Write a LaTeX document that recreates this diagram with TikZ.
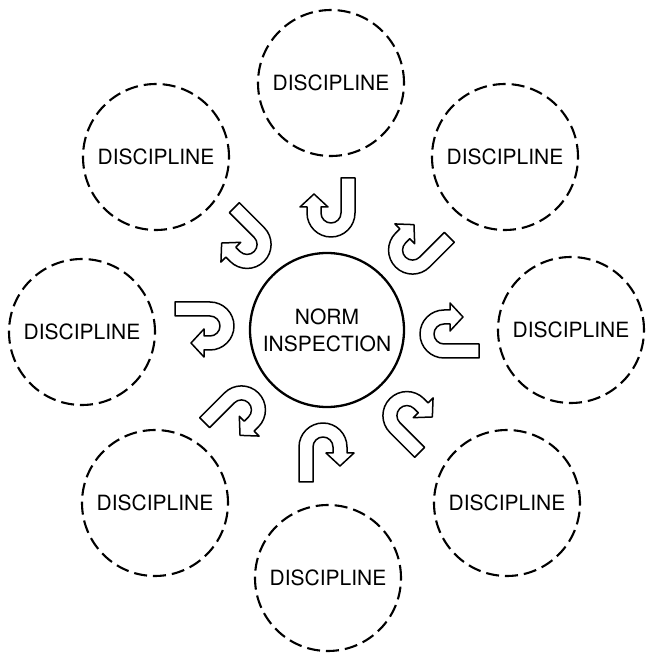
\documentclass[tikz,border=0pt]{standalone}
\usepackage{fontspec}
\setmainfont{TeX Gyre Heros}
\begin{document}
\begin{tikzpicture}[x=1pt,y=1pt,
  disc/.style={circle, draw, dash pattern=on 13pt off 6pt, line width=2.1pt, minimum size=146pt, inner sep=0pt, font=\fontsize{21}{25}\selectfont},
  hub/.style={circle, draw, line width=2.3pt, minimum size=154pt, inner sep=0pt, align=center, font=\fontsize{21}{27}\selectfont},
  uturn/.style={draw, fill=white, line width=1.5pt, line join=round}]
\useasboundingbox (0,0) rectangle (650,654);
\node[hub] (hub) at (327,324) {NORM\\INSPECTION};
\node[disc] (d1) at (331,571) {DISCIPLINE};
\node[disc] (d2) at (505,497) {DISCIPLINE};
\node[disc] (d3) at (571,324) {DISCIPLINE};
\node[disc] (d4) at (507,151) {DISCIPLINE};
\node[disc] (d5) at (328,76) {DISCIPLINE};
\node[disc] (d6) at (155,151) {DISCIPLINE};
\node[disc] (d7) at (82,322) {DISCIPLINE};
\node[disc] (d8) at (156,497) {DISCIPLINE};
\foreach \a in {90,45,0,-45,-90,-135,180,135} {
  \draw[uturn, shift={(hub.center)}, rotate=\a+180, shift={(-117pt,4pt)}]
    (-35pt,24pt) -- (0pt,24pt) arc[start angle=90,end angle=-90,radius=24pt]
    -- (-6pt,-24pt) -- (-6pt,-31pt) -- (-19pt,-17pt) -- (-6pt,-3pt) -- (-6pt,-10pt)
    -- (0pt,-10pt) arc[start angle=-90,end angle=90,radius=10pt]
    -- (-35pt,10pt) -- cycle;
}
\end{tikzpicture}
\end{document}
